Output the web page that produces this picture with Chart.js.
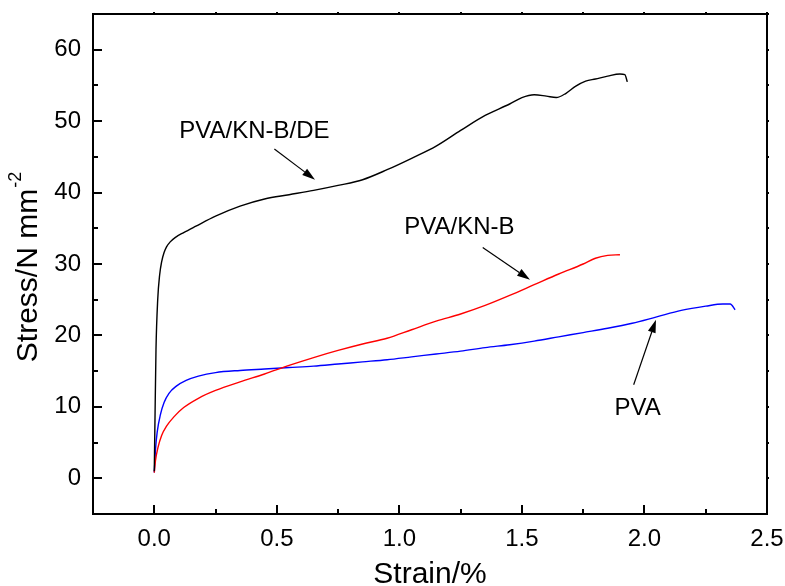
<!DOCTYPE html>
<html>
<head>
<meta charset="utf-8">
<script src="https://cdn.jsdelivr.net/npm/chart.js@4.4.1/dist/chart.umd.min.js"></script>
<style>
  html, body { margin: 0; padding: 0; background: #ffffff; }
  #wrap { width: 785px; height: 586px; }
</style>
</head>
<body>
<div id="wrap"><canvas id="c" width="785" height="586"></canvas></div>
<script>
// Stress–strain curves of the three films
const strainDE = [0.000, 0.003, 0.007, 0.014, 0.022, 0.030, 0.040, 0.050, 0.065, 0.085, 0.12, 0.17, 0.25, 0.35, 0.45, 0.55, 0.65, 0.75, 0.85, 0.95, 1.05, 1.15, 1.25, 1.35, 1.45, 1.50, 1.55, 1.60, 1.64, 1.68, 1.72, 1.76, 1.80, 1.85, 1.90, 1.92, 1.93];
const stressDE = [1.0, 8.5, 18.0, 25.0, 28.5, 30.3, 31.6, 32.4, 33.1, 33.7, 34.4, 35.3, 36.7, 38.1, 39.1, 39.7, 40.3, 41.0, 41.8, 43.2, 44.8, 46.5, 48.7, 50.8, 52.4, 53.3, 53.7, 53.5, 53.3, 53.9, 54.9, 55.6, 55.9, 56.3, 56.6, 56.5, 55.5];

const strainKNB = [0.000, 0.005, 0.015, 0.030, 0.050, 0.080, 0.12, 0.18, 0.25, 0.35, 0.45, 0.55, 0.65, 0.75, 0.85, 0.95, 1.05, 1.15, 1.25, 1.35, 1.45, 1.55, 1.65, 1.75, 1.80, 1.85, 1.90];
const stressKNB = [0.8, 2.5, 4.3, 6.0, 7.3, 8.6, 9.9, 11.2, 12.3, 13.5, 14.6, 15.8, 16.9, 17.9, 18.8, 19.6, 20.8, 22.0, 23.0, 24.2, 25.6, 27.1, 28.6, 30.0, 30.8, 31.2, 31.3];

const strainPVA = [0.000, 0.005, 0.012, 0.025, 0.040, 0.060, 0.090, 0.13, 0.18, 0.25, 0.35, 0.45, 0.55, 0.65, 0.75, 0.85, 0.95, 1.05, 1.15, 1.25, 1.35, 1.45, 1.55, 1.65, 1.75, 1.85, 1.95, 2.05, 2.15, 2.25, 2.32, 2.35, 2.37];
const stressPVA = [0.8, 4.0, 6.5, 8.9, 10.6, 11.9, 12.9, 13.7, 14.3, 14.8, 15.1, 15.3, 15.5, 15.7, 16.0, 16.3, 16.6, 17.0, 17.4, 17.8, 18.3, 18.7, 19.2, 19.8, 20.4, 21.0, 21.7, 22.6, 23.5, 24.1, 24.4, 24.4, 23.6];

const seriesNames = ['PVA/KN-B/DE', 'PVA/KN-B', 'PVA'];

// Axis ticks
const xTickValues = [0, 0.5, 1.0, 1.5, 2.0, 2.5];
const yTickValues = [0, 10, 20, 30, 40, 50, 60];

// Curve labels with their pointer arrows (data coordinates)
const notes = [
  { text: 'PVA/KN-B/DE', tx: 0.102, ty: 47.6, from: [0.490, 46.1], to: [0.656, 41.8] },
  { text: 'PVA/KN-B',    tx: 1.020, ty: 34.2, from: [1.340, 32.3], to: [1.533, 27.8] },
  { text: 'PVA',         tx: 1.878, ty: 8.8,  from: [1.956, 13.1], to: [2.047, 22.2] }
];

const FONT = "'Liberation Sans', Arial, sans-serif";

function pairs(xs, ys) { return xs.map((x, i) => ({ x: x, y: ys[i] })); }

const framePlugin = {
  id: 'frame',
  afterDatasetsDraw(chart) {
    const ctx = chart.ctx;
    const a = chart.chartArea;
    const xs = chart.scales.x, ys = chart.scales.y;
    ctx.save();
    ctx.strokeStyle = '#000';
    ctx.lineWidth = 2;
    // top and right edges of the frame
    ctx.beginPath();
    ctx.moveTo(a.left, a.top); ctx.lineTo(a.right, a.top); ctx.lineTo(a.right, a.bottom);
    ctx.stroke();

    // inward ticks on the bottom and left axes, short outward stubs on top and right
    for (let v = 0; v <= 2.5 + 1e-9; v += 0.25) {
      const px = Math.round(xs.getPixelForValue(v));
      const major = Math.abs(v / 0.5 - Math.round(v / 0.5)) < 1e-6;
      const len = major ? 9 : 5;
      ctx.beginPath();
      ctx.moveTo(px, a.bottom); ctx.lineTo(px, a.bottom - len);
      ctx.moveTo(px, a.top); ctx.lineTo(px, a.top - 2);
      ctx.stroke();
    }
    for (let v = 0; v <= 65 + 1e-9; v += 5) {
      const py = Math.round(ys.getPixelForValue(v));
      const major = v % 10 === 0;
      const len = major ? 9 : 5;
      ctx.beginPath();
      ctx.moveTo(a.left, py); ctx.lineTo(a.left + len, py);
      ctx.moveTo(a.right, py); ctx.lineTo(a.right + 2, py);
      ctx.stroke();
    }

    // curve labels and arrows
    ctx.fillStyle = '#000';
    ctx.font = '24px ' + FONT;
    ctx.textAlign = 'left';
    ctx.textBaseline = 'alphabetic';
    notes.forEach(n => {
      ctx.fillText(n.text, xs.getPixelForValue(n.tx), ys.getPixelForValue(n.ty));
      const x1 = xs.getPixelForValue(n.from[0]), y1 = ys.getPixelForValue(n.from[1]);
      const x2 = xs.getPixelForValue(n.to[0]), y2 = ys.getPixelForValue(n.to[1]);
      const ang = Math.atan2(y2 - y1, x2 - x1);
      const hl = 13, hw = 4;
      ctx.lineWidth = 1.2;
      ctx.beginPath();
      ctx.moveTo(x1, y1);
      ctx.lineTo(x2 - hl * Math.cos(ang), y2 - hl * Math.sin(ang));
      ctx.stroke();
      ctx.beginPath();
      ctx.moveTo(x2, y2);
      ctx.lineTo(x2 - hl * Math.cos(ang) + hw * Math.sin(ang), y2 - hl * Math.sin(ang) - hw * Math.cos(ang));
      ctx.lineTo(x2 - hl * Math.cos(ang) - hw * Math.sin(ang), y2 - hl * Math.sin(ang) + hw * Math.cos(ang));
      ctx.closePath();
      ctx.fill();
    });

    // axis titles
    ctx.font = '30px ' + FONT;
    ctx.textAlign = 'center';
    ctx.fillText('Strain/%', (a.left + a.right) / 2, 583);

    ctx.save();
    const main = 'Stress/N mm';
    ctx.font = '30px ' + FONT;
    const wMain = ctx.measureText(main).width;
    ctx.font = '18px ' + FONT;
    const wSup = ctx.measureText('-2').width;
    const total = wMain + 1 + wSup;
    const cy = (a.top + a.bottom) / 2 + 3;
    ctx.translate(37, cy);
    ctx.rotate(-Math.PI / 2);
    ctx.textAlign = 'left';
    ctx.font = '30px ' + FONT;
    ctx.fillText(main, -total / 2, 0);
    ctx.font = '18px ' + FONT;
    ctx.fillText('-2', -total / 2 + wMain + 1, -16);
    ctx.restore();

    ctx.restore();
  }
};

new Chart(document.getElementById('c'), {
  type: 'scatter',
  data: {
    datasets: [
      { label: seriesNames[0], data: pairs(strainDE, stressDE), borderColor: '#000000' },
      { label: seriesNames[1], data: pairs(strainKNB, stressKNB), borderColor: '#ff0000' },
      { label: seriesNames[2], data: pairs(strainPVA, stressPVA), borderColor: '#0000ff' }
    ].map(d => Object.assign(d, {
      showLine: true, pointRadius: 0, borderWidth: 1.4,
      cubicInterpolationMode: 'monotone', fill: false
    }))
  },
  options: {
    responsive: false,
    devicePixelRatio: 1,
    animation: false,
    layout: { padding: { left: 0, right: 18, top: 14, bottom: 0 } },
    plugins: { legend: { display: false }, tooltip: { enabled: false } },
    scales: {
      x: {
        type: 'linear', min: -0.25, max: 2.5,
        grid: { display: false, drawTicks: false },
        border: { display: true, color: '#000', width: 2 },
        ticks: { color: '#000', font: { family: FONT, size: 24 }, padding: 11,
                 maxRotation: 0, autoSkip: false, callback: v => Number(v).toFixed(1) },
        afterBuildTicks: s => { s.ticks = xTickValues.map(v => ({ value: v })); },
        afterFit: s => { s.height = 72; s.paddingLeft = 0; s.paddingRight = 0; }
      },
      y: {
        type: 'linear', min: -5, max: 65,
        grid: { display: false, drawTicks: false },
        border: { display: true, color: '#000', width: 2 },
        ticks: { color: '#000', font: { family: FONT, size: 24 }, padding: 12,
                 autoSkip: false, callback: v => String(v) },
        afterBuildTicks: s => { s.ticks = yTickValues.map(v => ({ value: v })); },
        afterFit: s => { s.width = 93; s.paddingTop = 0; s.paddingBottom = 0; }
      }
    }
  },
  plugins: [framePlugin]
});
</script>
</body>
</html>
